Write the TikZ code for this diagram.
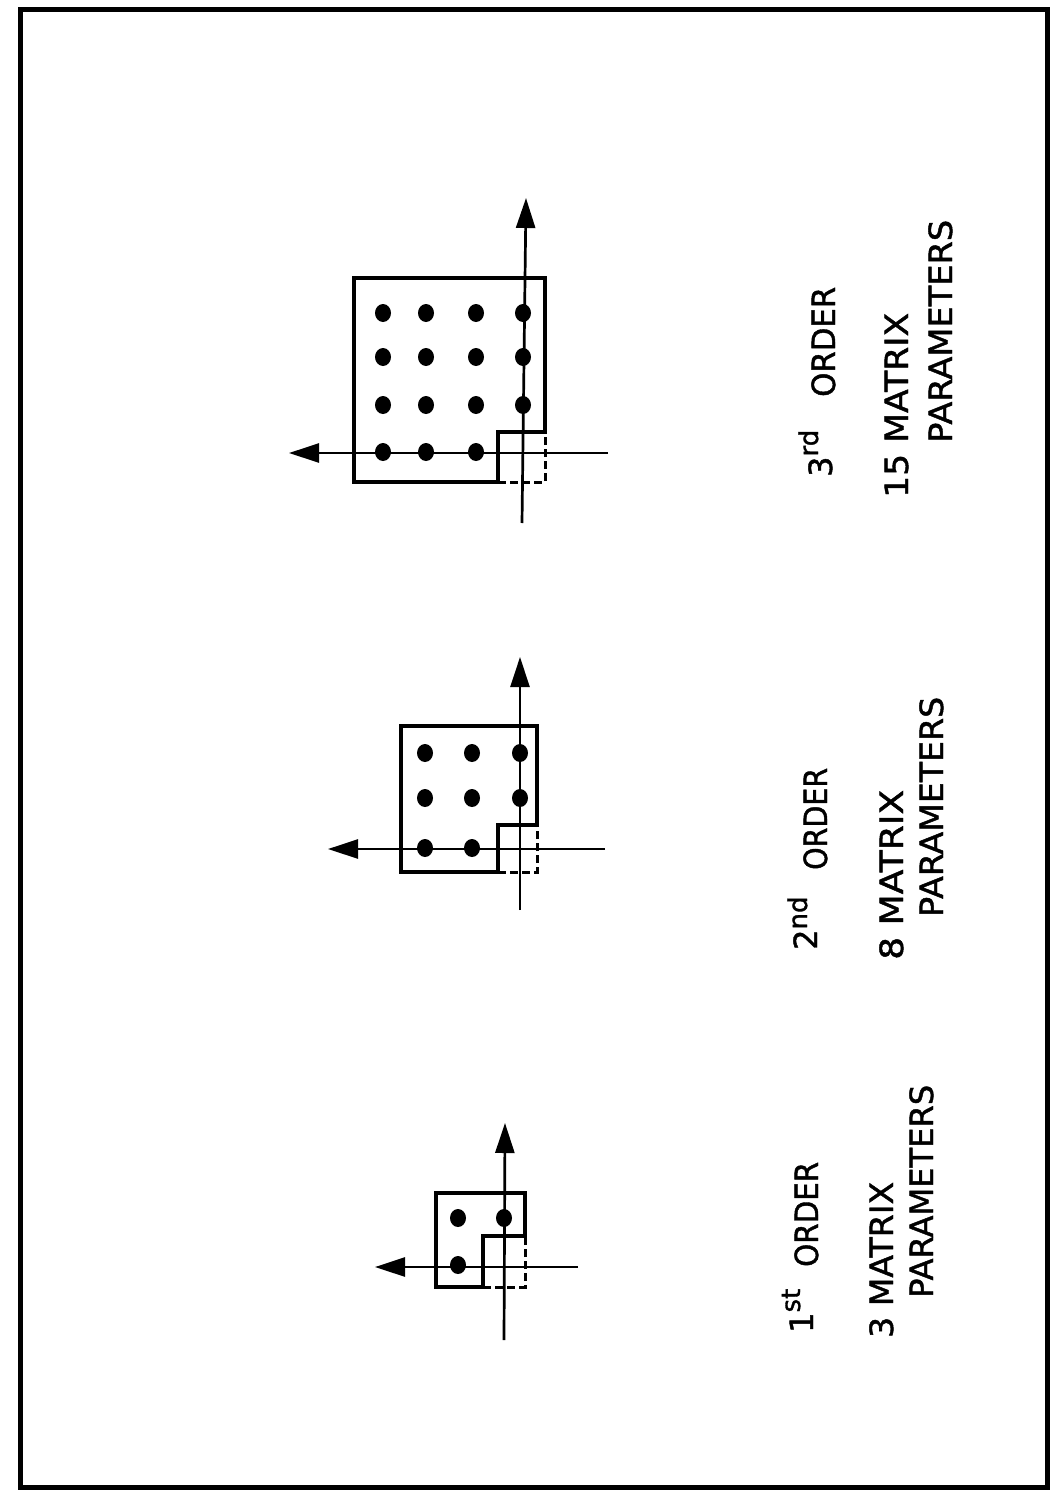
\documentclass[tikz,border=0pt]{standalone}
\usepackage{fontspec}
\setmainfont{DejaVu Sans}
\newfontfamily\lettering{DejaVu Sans}[FakeBold=1.3]
\usetikzlibrary{arrows.meta,shapes.geometric}
\newcommand{\fitw}[2]{\resizebox{#1}{\height}{#2}}
\newcommand{\supr}[2]{\raisebox{#1}{\fontsize{26}{26}\selectfont #2}}
\tikzset{
  frame/.style={line width=5pt},
  region/.style={line width=4.5pt, line join=miter},
  axis/.style={line width=2.7pt, -{Triangle[length=30pt,width=19pt]}},
  open/.style={line width=3pt, dash pattern=on 8pt off 4pt},
  pt/.style={ellipse, fill=black, draw=none, inner sep=0pt, minimum width=16pt, minimum height=18pt},
  lbl/.style={rotate=90, anchor=base west, inner sep=0pt, font=\lettering\fontsize{32}{32}\selectfont}
}
\begin{document}
\begin{tikzpicture}[x=1pt,y=-1pt]
  \useasboundingbox (0,0) rectangle (1054,1496);
  \draw[frame] (20,10) rectangle (1047,1487);

  % ---------- first order: 3 parameters ----------
  \coordinate (h1e) at (578,1267);
  \coordinate (h1t) at (375,1267);
  \coordinate (v1e) at (504,1340);
  \coordinate (v1t) at (505,1123);
  \draw[region] (436,1193) -- (525,1193) -- (525,1236) -- (483,1236) -- (483,1287) -- (436,1287) -- cycle;
  \draw[open] (483,1287) -- (525,1287) -- (525,1236);
  \draw[axis] (h1e) -- (h1t);
  \draw[axis] (v1e) -- (v1t);
  \node[pt] (a11) at (458,1218) {};
  \node[pt] (a12) at (504,1218) {};
  \node[pt] (a21) at (458,1265) {};
  \node[lbl] (o1) at (813,1333) {1\supr{13pt}{st}};
  \node[lbl] (o1w) at (818,1267) {\fitw{105pt}{ORDER}};
  \node[lbl] (m1) at (893,1338) {\fitw{156pt}{3 MATRIX}};
  \node[lbl] (p1) at (933,1298) {\fitw{213pt}{PARAMETERS}};

  % ---------- second order: 8 parameters ----------
  \coordinate (h2e) at (605,849);
  \coordinate (h2t) at (328,849);
  \coordinate (v2e) at (520,910);
  \coordinate (v2t) at (520,657);
  \draw[region] (401,726) -- (537,726) -- (537,825) -- (498,825) -- (498,872) -- (401,872) -- cycle;
  \draw[open] (498,872) -- (537,872) -- (537,825);
  \draw[axis] (h2e) -- (h2t);
  \draw[axis] (v2e) -- (v2t);
  \foreach \c/\x in {1/425,2/472,3/520}{
    \node[pt] (b1\c) at (\x,753) {};
    \node[pt] (b2\c) at (\x,798) {};
  }
  \node[pt] (b31) at (425,848) {};
  \node[pt] (b32) at (472,848) {};
  \node[lbl] (o2) at (817,950) {2\supr{10pt}{nd}};
  \node[lbl] (o2w) at (827,870) {\fitw{102pt}{ORDER}};
  \node[lbl] (m2) at (903,960) {\fitw{170pt}{8 MATRIX}};
  \node[lbl] (p2) at (943,917) {\fitw{220pt}{PARAMETERS}};

  % ---------- third order: 15 parameters ----------
  \coordinate (h3e) at (608,453);
  \coordinate (h3t) at (289,453);
  \coordinate (v3e) at (522,523);
  \coordinate (v3t) at (526,198);
  \draw[region] (354,278) -- (545,278) -- (545,432) -- (498,432) -- (498,482) -- (354,482) -- cycle;
  \draw[open] (498,482) -- (545,482) -- (545,432);
  \draw[axis] (h3e) -- (h3t);
  \draw[axis] (v3e) -- (v3t);
  \foreach \c/\x in {1/383,2/426,3/476,4/523}{
    \node[pt] (c1\c) at (\x,313) {};
    \node[pt] (c2\c) at (\x,357) {};
    \node[pt] (c3\c) at (\x,405) {};
  }
  \node[pt] (c41) at (383,452) {};
  \node[pt] (c42) at (426,452) {};
  \node[pt] (c43) at (476,452) {};
  \node[lbl] (o3) at (832,477) {3\supr{14pt}{rd}};
  \node[lbl] (o3w) at (835,397) {\fitw{110pt}{ORDER}};
  \node[lbl] (m3) at (908,498) {\fitw{185pt}{15 MATRIX}};
  \node[lbl] (p3) at (952,443) {\fitw{223pt}{PARAMETERS}};
\end{tikzpicture}
\end{document}
